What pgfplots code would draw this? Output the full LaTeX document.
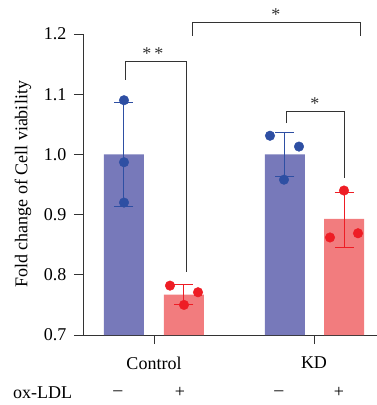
\documentclass[border=0pt]{standalone}
\usepackage{pgfplots}
\pgfplotsset{compat=1.18}
\usepackage{fontspec}
\setmainfont{Liberation Serif}
\definecolor{barblue}{HTML}{7779BA}
\definecolor{barred}{HTML}{F27C7E}
\definecolor{ptblue}{HTML}{2E4FA3}
\definecolor{ptred}{HTML}{EE1D25}
\definecolor{axgray}{HTML}{333333}
\newcommand{\fs}{\fontsize{18bp}{21bp}\selectfont}
\begin{document}
\begin{tikzpicture}[x=1bp,y=1bp]
\useasboundingbox (-83bp,-70bp) rectangle (294bp,335bp);
\begin{axis}[
  at={(0,0)}, anchor=south west,
  scale only axis, width=294bp, height=301bp,
  xmin=-0.6833, xmax=4.2167, ymin=0.7, ymax=1.2,
  axis lines=left, axis line style={-, axgray, line width=0.9bp},
  clip=false,
  font=\fs,
  ytick={0.7,0.8,0.9,1.0,1.1,1.2},
  yticklabel style={/pgf/number format/fixed, /pgf/number format/fixed zerofill, /pgf/number format/precision=1, /pgf/number format/assume math mode=true, xshift=-4bp},
  xtick={0.5,3.1667}, xticklabels={Control,KD},
  xticklabel style={yshift=-9bp},
  tick style={axgray, line width=0.9bp},
  major tick length=9bp, tick align=outside,
  ylabel={Fold change of Cell viability},
  ylabel style={yshift=6bp},
]
% bars
\addplot[ybar, bar width=0.6667, bar shift=0, fill=barblue, draw=none, mark=none] coordinates {(0,1.0) (2.6833,1.0)};
\addplot[ybar, bar width=0.6667, bar shift=0, fill=barred, draw=none, mark=none] coordinates {(1,0.767) (3.6667,0.893)};
% error bars
\addplot[draw=none, mark=none,
  error bars/.cd, y dir=both, y explicit, error bar style={ptblue, line width=1bp},
  error mark options={ptblue, line width=1bp, mark size=9.5bp, rotate=90}]
  coordinates {(0,1.0) +- (0,0.086) (2.6833,1.0) +- (0,0.037)};
\addplot[draw=none, mark=none,
  error bars/.cd, y dir=both, y explicit, error bar style={ptred, line width=1bp},
  error mark options={ptred, line width=1bp, mark size=9.5bp, rotate=90}]
  coordinates {(1,0.767) +- (0,0.0165) (3.6667,0.891) +- (0,0.045)};
% points
\addplot[only marks, mark=*, mark size=4.8bp, ptblue, mark options={draw=ptblue, fill=ptblue}]
  coordinates {(0,1.090) (0,0.987) (0,0.920) (2.4333,1.031) (2.9167,1.013) (2.6667,0.958)};
\addplot[only marks, mark=*, mark size=4.8bp, ptred, mark options={draw=ptred, fill=ptred}]
  coordinates {(0.7667,0.782) (1.0,0.750) (1.2333,0.771) (3.6667,0.940) (3.4333,0.862) (3.9,0.869)};
% significance brackets
\draw[axgray, line width=0.9bp] (axis cs:0.0167,1.1236) -- (axis cs:0.0167,1.155) -- (axis cs:1.0333,1.155) -- (axis cs:1.0333,0.805);
\node[axgray, font=\fs] at (axis cs:0.4833,1.168) {*\,*};
\draw[axgray, line width=0.9bp] (axis cs:1.1333,1.197) -- (axis cs:1.1333,1.219) -- (axis cs:3.9333,1.219) -- (axis cs:3.9333,1.197);
\node[axgray, font=\fs] at (axis cs:2.5333,1.232) {*};
\draw[axgray, line width=0.9bp] (axis cs:2.7,1.052) -- (axis cs:2.7,1.0717) -- (axis cs:3.6667,1.0717) -- (axis cs:3.6667,0.961);
\node[axgray, font=\fs] at (axis cs:3.1833,1.084) {*};
% ox-LDL row
\node[font=\fs] at (axis cs:-1.358,0.604) {ox-LDL};
\node[font=\fs] at (axis cs:-0.1,0.604) {–};
\node[font=\fs] at (axis cs:0.9333,0.604) {+};
\node[font=\fs] at (axis cs:2.5833,0.604) {–};
\node[font=\fs] at (axis cs:3.5833,0.604) {+};
\end{axis}
\end{tikzpicture}
\end{document}
